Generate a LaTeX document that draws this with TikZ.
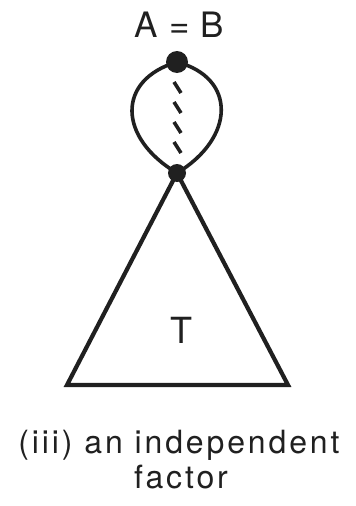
\documentclass[tikz,border=0pt]{standalone}
\usepackage{fontspec}
\setmainfont{TeX Gyre Heros}
\newfontfamily\capfont[LetterSpace=9]{TeX Gyre Heros}
\newfontfamily\abfont[LetterSpace=4]{TeX Gyre Heros}
\definecolor{ink}{RGB}{32,32,32}
\tikzset{
  dot/.style={circle, fill=ink, inner sep=0pt},
  loopline/.style={draw=ink, line width=3.6pt},
  triline/.style={draw=ink, line width=4.2pt, line join=miter},
  hatch/.style={draw=ink, line width=3.6pt, line cap=butt},
  lbl/.style={text=ink, inner sep=0pt, anchor=base},
}
\begin{document}
\begin{tikzpicture}[x=1pt,y=-1pt]
\useasboundingbox (0,0) rectangle (356,506);
\fill[white] (0,0) rectangle (356,506);
\coordinate (pTop) at (177,62);
\coordinate (pBot) at (177,173);
\coordinate (L) at (67,385);
\coordinate (R) at (288,385);
% triangle
\draw[triline] (pBot) -- (R) -- (L) -- cycle;
% loop
\draw[loopline] (pTop) .. controls (116,80) and (118,138) .. (pBot);
\draw[loopline] (pTop) .. controls (237,78) and (235,138) .. (pBot);
% hatched line
\draw[hatch] (174,82) -- (181,93);
\draw[hatch] (174,102) -- (181,113);
\draw[hatch] (174,122) -- (181,133);
\draw[hatch] (174,142) -- (181,153);
% dots
\node[dot, minimum size=22pt] (top) at (pTop) {};
\node[dot, minimum size=18pt] (bot) at (pBot) {};
% labels
\node[lbl] (ab) at (179.5,37) {\abfont\fontsize{35}{40}\selectfont A = B};
\node[lbl] (t) at (181.5,343) {\fontsize{36}{40}\selectfont T};
\node[lbl] (cap1) at (179,453) {\capfont\fontsize{32}{35}\selectfont (iii) an independent};
\node[lbl] (cap2) at (181,488) {\capfont\fontsize{32}{35}\selectfont factor};
\end{tikzpicture}
\end{document}
